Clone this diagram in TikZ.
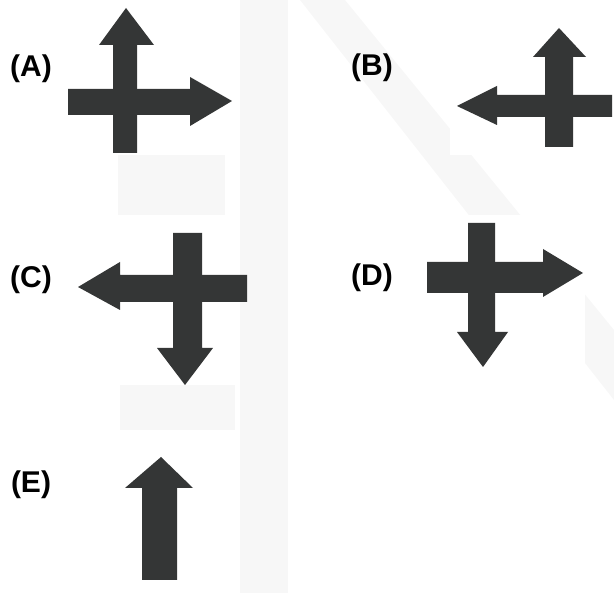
\documentclass[tikz,border=0pt]{standalone}
\usepackage{fontspec}
\setmainfont{Liberation Sans}
\definecolor{arrowgray}{RGB}{52,54,54}
\definecolor{markgray}{RGB}{247,247,247}
\tikzset{
  optlabel/.style = {inner sep=0pt, font=\fontsize{30}{34}\selectfont\bfseries},% label of an option
  arrowbody/.style = {fill=arrowgray, draw=none},% dark arrow shape
  backmark/.style = {fill=markgray, draw=none},% faint watermark
  panel/.style = {fill=white, draw=none}% white box under a figure
}

\begin{document}
\begin{tikzpicture}[x=1pt,y=-1pt]
\useasboundingbox (0,0) rectangle (614,593);
% faint watermark
\fill[backmark] (118,155) rectangle (225,215);
\fill[backmark] (120,385) rectangle (235,430);
\fill[backmark] (240,0) rectangle (288,593);
\fill[backmark] (300,0) -- (345,0) -- (614,330) -- (614,400) -- cycle;
\fill[panel] (450,0) rectangle (614,155);
\fill[panel] (425,215) rectangle (585,370);

% labels
\node [optlabel] (labA) at (31,69) {(A)};
\node [optlabel] (labB) at (372,68) {(B)};
\node [optlabel] (labC) at (31,280) {(C)};
\node [optlabel] (labD) at (372,278) {(D)};
\node [optlabel] (labE) at (31,485) {(E)};

% (A) up and right
\fill[arrowbody] (113,153) -- (113,45) -- (99,45) -- (126,8) -- (154,45)
  -- (137,45) -- (137,153) -- cycle;
\fill[arrowbody] (68,89) -- (190,89) -- (190,77) -- (232,101) -- (190,126)
  -- (190,115) -- (68,115) -- cycle;

% (B) up and left
\fill[arrowbody] (545,147) -- (545,57) -- (533,57) -- (559,28) -- (586,57)
  -- (573,57) -- (573,147) -- cycle;
\fill[arrowbody] (612,95) -- (497,95) -- (497,86) -- (457,106) -- (497,125)
  -- (497,117) -- (612,117) -- cycle;

% (C) left and down
\fill[arrowbody] (247,275) -- (120,275) -- (120,262) -- (78,287) -- (120,310)
  -- (120,302) -- (247,302) -- cycle;
\fill[arrowbody] (173,233) -- (173,348) -- (157,348) -- (185,385) -- (213,348)
  -- (202,348) -- (202,233) -- cycle;

% (D) right and down
\fill[arrowbody] (427,262) -- (543,262) -- (543,249) -- (583,273) -- (543,297)
  -- (543,293) -- (427,293) -- cycle;
\fill[arrowbody] (468,223) -- (468,332) -- (457,332) -- (483,367) -- (508,332)
  -- (495,332) -- (495,223) -- cycle;

% (E) up only
\fill[arrowbody] (142,580) -- (142,488) -- (125,488) -- (161,457) -- (193,488)
  -- (177,488) -- (177,580) -- cycle;
\end{tikzpicture}
\end{document}
